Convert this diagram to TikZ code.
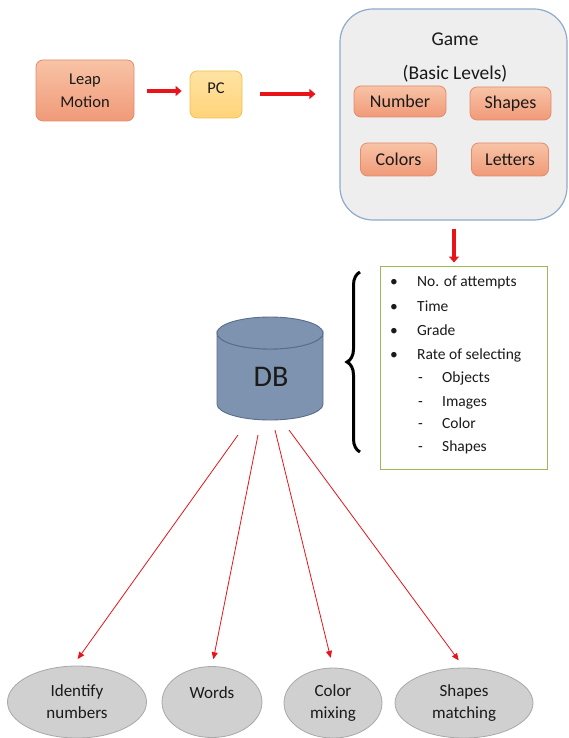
\documentclass[tikz,border=0pt]{standalone}
\usepackage{fontspec}
\setmainfont{Carlito}
\usetikzlibrary{arrows.meta,shapes.geometric,decorations.pathreplacing,calc}
\definecolor{txt}{HTML}{1A1A1A}
\definecolor{salmonTop}{HTML}{F8C3A6}
\definecolor{salmonBot}{HTML}{F09A78}
\definecolor{salmonLine}{HTML}{E38C6E}
\definecolor{pcTop}{HTML}{FFE3A3}
\definecolor{pcBot}{HTML}{FFD37A}
\definecolor{pcLine}{HTML}{F2C14A}
\definecolor{gameFill}{HTML}{EEEEEF}
\definecolor{gameLine}{HTML}{8FABCC}
\definecolor{dbFill}{HTML}{7E93AF}
\definecolor{dbLine}{HTML}{5A6E8C}
\definecolor{greenLine}{HTML}{9BBB59}
\definecolor{ellFill}{HTML}{D0D0D0}
\definecolor{ellLine}{HTML}{A8A8A8}
\definecolor{arrRed}{HTML}{E8141A}
\tikzset{
  salmonbox/.style={draw=salmonLine, line width=0.8pt, top color=salmonTop, bottom color=salmonBot, rounded corners=7pt, inner sep=0pt, text=txt, align=center},
  pcbox/.style={draw=pcLine, line width=0.8pt, top color=pcTop, bottom color=pcBot, rounded corners=7pt, inner sep=0pt, text=txt, align=center},
  gamebox/.style={draw=gameLine, line width=1.2pt, fill=gameFill, rounded corners=33pt, inner sep=0pt},
  listbox/.style={draw=greenLine, line width=1pt, fill=white, inner sep=0pt},
  outell/.style={ellipse, draw=ellLine, line width=0.8pt, fill=ellFill, inner sep=0pt, text=txt, align=center, font=\fontsize{17}{22}\selectfont},
  fatarrow/.style={draw=arrRed, line width=4.5pt, -{Triangle[length=6pt,width=10pt]}},
  thinarrow/.style={draw=arrRed, line width=0.8pt, -{Triangle[length=7pt,width=6pt]}},
  listtxt/.style={anchor=west, inner sep=0pt, text=txt, font=\fontsize{15.5}{18}\selectfont, text height=11pt, text depth=3pt},
  bigtxt/.style={text=txt, inner sep=0pt, font=\fontsize{19.5}{22}\selectfont},
  boxtxt/.style={font=\fontsize{18}{20}\selectfont},
}
\begin{document}
\begin{tikzpicture}[x=1pt,y=-1pt]
\useasboundingbox (0,0) rectangle (568,738);
\fill[white] (0,0) rectangle (568,738);

% top row
\node[salmonbox, minimum width=98pt, minimum height=61pt, font=\fontsize{16.5}{23}\selectfont] (leap) at (85,90.5) {Leap\\Motion};
\node[pcbox, minimum width=52pt, minimum height=47pt, font=\fontsize{16.5}{18}\selectfont] (pc) at (216,94.5) {\raisebox{6pt}[\height][\depth]{PC}};
\node[gamebox, minimum width=227pt, minimum height=211pt] (game) at (453.5,114.5) {};
\node[bigtxt] (gametitle) at (455,39) {Game};
\node[bigtxt] (gamesub) at (455,74) {(Basic Levels)};
\node[salmonbox, boxtxt, minimum width=92pt, minimum height=31pt] (number) at (400,101.5) {Number};
\node[salmonbox, boxtxt, minimum width=81pt, minimum height=33pt] (shapes) at (510.5,103.5) {Shapes};
\node[salmonbox, boxtxt, minimum width=76pt, minimum height=33pt] (colors) at (398.5,159.5) {Colors};
\node[salmonbox, boxtxt, minimum width=77pt, minimum height=33pt] (letters) at (510,159.5) {Letters};

\draw[fatarrow] (leap.east |- 0,91) -- (pc.west |- 0,91) [shorten <=13pt, shorten >=8pt];
\draw[fatarrow, line width=4pt] (pc.east |- 0,94) -- (game.west |- 0,94) [shorten <=18pt, shorten >=24pt];

% list box
\node[listbox, minimum width=167pt, minimum height=203pt] (list) at (463.5,367.5) {};
\draw[fatarrow, line width=4pt] (game.south -| 454,0) -- (list.north -| 454,0) [shorten <=8pt, shorten >=3pt];

\node[listtxt] (b1) at (390,282) {•};
\node[listtxt] (t1) at (417,282) {No. of attempts};
\node[listtxt] (b2) at (390,307) {•};
\node[listtxt] (t2) at (417,307) {Time};
\node[listtxt] (b3) at (390,331) {•};
\node[listtxt] (t3) at (417,331) {Grade};
\node[listtxt] (b4) at (390,355) {•};
\node[listtxt] (t4) at (417,355) {Rate of selecting};
\node[listtxt] (d1) at (418,378) {-};
\node[listtxt] (s1) at (442,378) {Objects};
\node[listtxt] (d2) at (418,402) {-};
\node[listtxt] (s2) at (442,402) {Images};
\node[listtxt] (d3) at (418,424) {-};
\node[listtxt] (s3) at (442,424) {Color};
\node[listtxt] (d4) at (418,447) {-};
\node[listtxt] (s4) at (442,447) {Shapes};

% brace
\draw[decorate, decoration={brace, amplitude=13pt}, line width=3pt, black] (360,452) -- (360,272);

% DB cylinder
\filldraw[fill=dbFill, draw=dbLine, line width=0.9pt] (217,333) -- (217,404) arc[start angle=180, end angle=0, x radius=53, y radius=16] -- (323,333) arc[start angle=0, end angle=180, x radius=53, y radius=16] -- cycle;
\filldraw[fill=dbFill, draw=dbLine, line width=0.9pt] (270,333) ellipse [x radius=53, y radius=16];
\node[text=txt, inner sep=0pt, font=\fontsize{30}{30}\selectfont] (db) at (271,377) {DB};

% outputs
\node[outell, minimum width=139pt, minimum height=72pt] (e1) at (77,702) {Identify\\numbers};
\node[outell, minimum width=100pt, minimum height=71pt] (e2) at (212,702) {\raisebox{9pt}[\height][\depth]{Words}};
\node[outell, minimum width=98pt, minimum height=70pt] (e3) at (333,703) {Color\\mixing};
\node[outell, minimum width=138pt, minimum height=70pt] (e4) at (464,703) {Shapes\\matching};

\coordinate (o1) at (238,435);
\coordinate (o2) at (258,435);
\coordinate (o3) at (275,430);
\coordinate (o4) at (289,430);
\draw[thinarrow, shorten >=8pt] (o1) -- ($(e1.north)+(-4,0)$);
\draw[thinarrow, shorten >=7pt] (o2) -- (e2.north);
\draw[thinarrow, shorten >=10pt] (o3) -- (e3.north);
\draw[thinarrow, shorten >=9pt] (o4) -- (e4.north);
\end{tikzpicture}
\end{document}
